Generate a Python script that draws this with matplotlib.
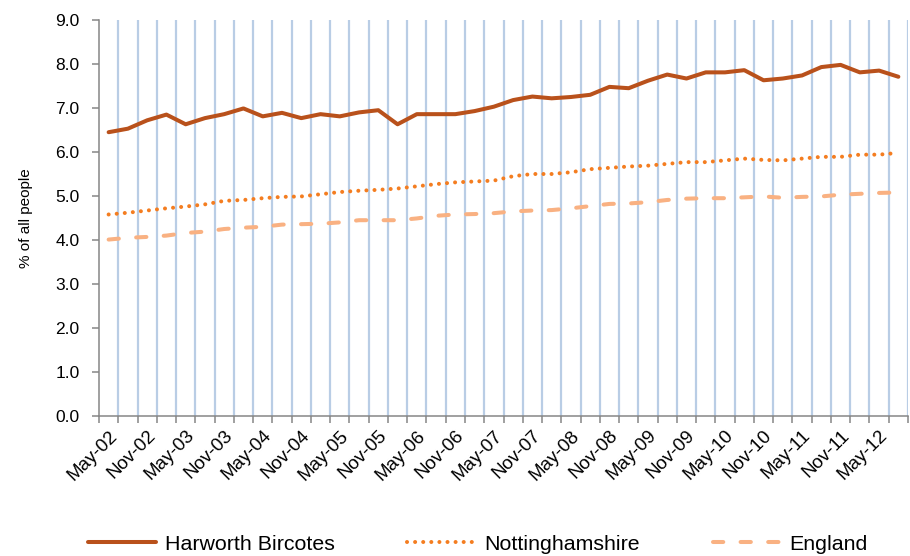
import matplotlib
matplotlib.use("Agg")
import matplotlib.pyplot as plt
import numpy as np

plt.rcParams['font.family'] = ['Liberation Sans', 'DejaVu Sans']

# Quarterly periods May-02 .. Aug-12
periods = ["May-02", "Aug-02", "Nov-02", "Feb-03", "May-03", "Aug-03", "Nov-03", "Feb-04",
           "May-04", "Aug-04", "Nov-04", "Feb-05", "May-05", "Aug-05", "Nov-05", "Feb-06",
           "May-06", "Aug-06", "Nov-06", "Feb-07", "May-07", "Aug-07", "Nov-07", "Feb-08",
           "May-08", "Aug-08", "Nov-08", "Feb-09", "May-09", "Aug-09", "Nov-09", "Feb-10",
           "May-10", "Aug-10", "Nov-10", "Feb-11", "May-11", "Aug-11", "Nov-11", "Feb-12",
           "May-12", "Aug-12"]

harworth = [6.45, 6.53, 6.72, 6.85, 6.63, 6.77, 6.86, 6.99, 6.81, 6.89, 6.77, 6.86, 6.81, 6.90,
            6.95, 6.63, 6.86, 6.86, 6.86, 6.93, 7.03, 7.18, 7.26, 7.22, 7.25, 7.30, 7.48, 7.45,
            7.62, 7.76, 7.67, 7.81, 7.81, 7.86, 7.63, 7.67, 7.74, 7.93, 7.98, 7.81, 7.85, 7.71]

notts = [4.58, 4.62, 4.67, 4.72, 4.76, 4.81, 4.89, 4.91, 4.95, 4.98, 4.99, 5.04, 5.09, 5.12,
         5.14, 5.17, 5.22, 5.27, 5.31, 5.33, 5.35, 5.45, 5.50, 5.50, 5.54, 5.61, 5.64, 5.67,
         5.69, 5.73, 5.77, 5.77, 5.81, 5.85, 5.82, 5.81, 5.85, 5.89, 5.89, 5.94, 5.94, 5.98]

england = [4.01, 4.05, 4.07, 4.10, 4.16, 4.19, 4.25, 4.28, 4.30, 4.35, 4.36, 4.37, 4.40, 4.45,
           4.45, 4.45, 4.49, 4.55, 4.58, 4.59, 4.61, 4.65, 4.67, 4.68, 4.72, 4.77, 4.82, 4.83,
           4.86, 4.91, 4.94, 4.95, 4.95, 4.97, 4.99, 4.96, 4.98, 4.99, 5.03, 5.05, 5.07, 5.08]

y_ticks = [0, 1, 2, 3, 4, 5, 6, 7, 8, 9]

fig = plt.figure(figsize=(9.10, 5.56), dpi=100)
ax = fig.add_axes([99 / 910, 140 / 556, 809 / 910, 396 / 556])

x = np.arange(len(periods))
n = len(periods)

# vertical gridlines at category boundaries
for b in np.arange(0.5, n, 1.0):
    ax.axvline(b, color='#B9CDE5', lw=1.6, zorder=0)

l1, = ax.plot(x, harworth, color='#B9511B', lw=2.9, solid_capstyle='round',
              solid_joinstyle='round', label='Harworth Bircotes', zorder=4)
l2, = ax.plot(x, notts, color='#F47D20', lw=2.9, linestyle=(0, (0.01, 2.0)),
              dash_capstyle='round', label='Nottinghamshire', zorder=3)
l3, = ax.plot(x, england, color='#F9B182', lw=2.9, linestyle=(0, (2.55, 4.3)),
              dash_capstyle='round', label='England', zorder=2)

ax.set_xlim(-0.5, n - 0.5)
ax.set_ylim(0, 9)
ax.set_yticks(y_ticks)
ax.set_yticklabels([f"{v:.1f}" for v in y_ticks], fontsize=12.5)

# tick marks at boundaries, labels at every other category
ax.set_xticks(np.arange(-0.5, n, 1.0))
ax.set_xticklabels([])
ax.set_xticks(x[::2], minor=True)
ax.set_xticklabels(periods[::2], minor=True, rotation=45, ha='right',
                   rotation_mode='anchor', fontsize=13.5)
ax.tick_params(axis='x', which='major', length=5, width=1.1, color='#868686', direction='out')
ax.tick_params(axis='x', which='minor', length=0, pad=8)
ax.tick_params(axis='y', length=5, width=1.1, color='#868686', direction='out', pad=9)

for s in ['top', 'right']:
    ax.spines[s].set_visible(False)
for s in ['left', 'bottom']:
    ax.spines[s].set_color('#868686')
    ax.spines[s].set_linewidth(1.1)

ax.set_ylabel('% of all people', fontsize=11)
ax.yaxis.set_label_coords(-0.0816, 0.5)

fig.legend(handles=[l1, l2, l3], loc='center', bbox_to_anchor=(0.525, 0.0215),
           ncol=3, frameon=False, fontsize=15.4, handlelength=3.2, handletextpad=0.4,
           columnspacing=3.4, borderpad=0)

fig.savefig('out.png', dpi=100)
